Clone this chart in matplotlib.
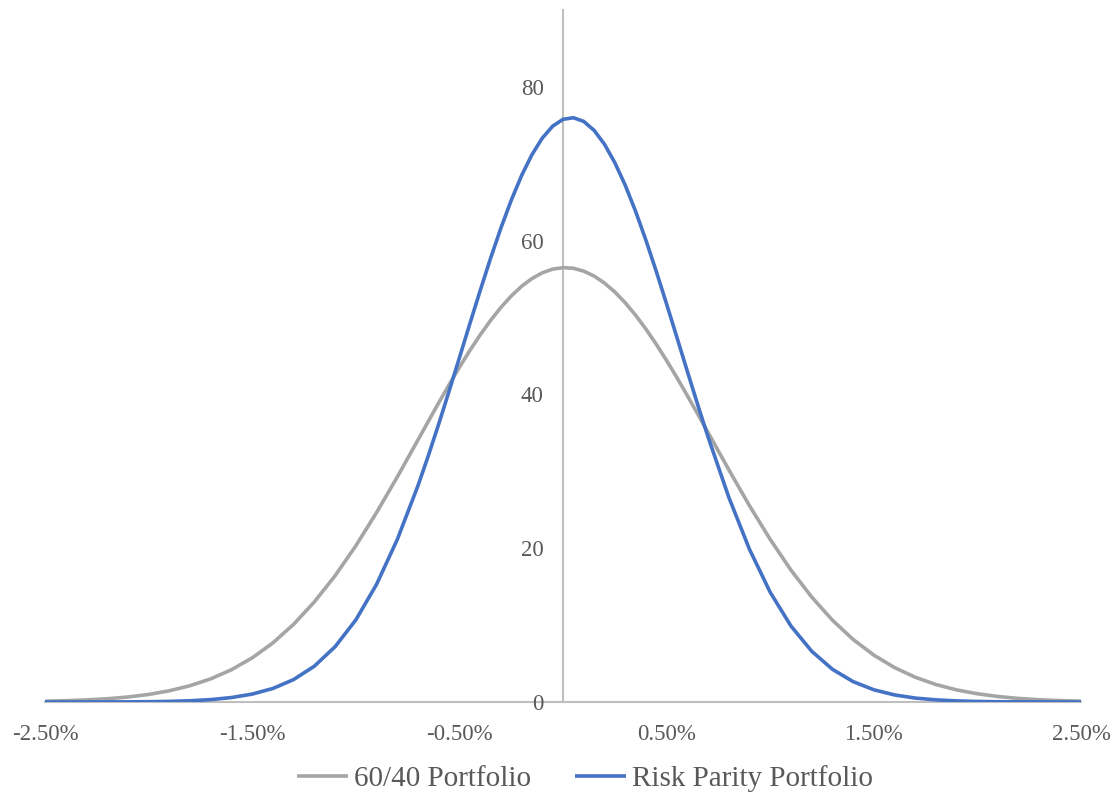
import matplotlib
matplotlib.use("Agg")
import matplotlib.pyplot as plt
from matplotlib.ticker import FuncFormatter

plt.rcParams['font.family'] = ['Liberation Serif', 'DejaVu Serif']

# daily return (%)
returns = [-2.5, -2.4, -2.3, -2.2, -2.1, -2.0, -1.9, -1.8, -1.7, -1.6,
           -1.5, -1.4, -1.3, -1.2, -1.1, -1.0, -0.9, -0.8, -0.7,
           -0.65, -0.6, -0.55, -0.5, -0.45, -0.4, -0.35, -0.3, -0.25, -0.2,
           -0.15, -0.1, -0.05, 0.0, 0.05, 0.1, 0.15, 0.2, 0.25, 0.3,
           0.35, 0.4, 0.45, 0.5, 0.55, 0.6, 0.65,
           0.7, 0.8, 0.9, 1.0, 1.1, 1.2, 1.3, 1.4, 1.5, 1.6,
           1.7, 1.8, 1.9, 2.0, 2.1, 2.2, 2.3, 2.4, 2.5]

portfolio_6040 = [0.10, 0.17, 0.27, 0.42, 0.65, 0.98, 1.46, 2.12, 3.01, 4.20,
                  5.74, 7.69, 10.11, 13.02, 16.42, 20.31, 24.63, 29.26, 34.08,
                  36.50, 38.91, 41.25, 43.53, 45.70, 47.73, 49.61, 51.31, 52.80, 54.06,
                  55.07, 55.82, 56.30, 56.49, 56.41, 56.04, 55.40, 54.49, 53.33, 51.93,
                  50.32, 48.51, 46.53, 44.41, 42.18, 39.85, 37.47,
                  35.05, 30.22, 25.53, 21.15, 17.16, 13.66, 10.65, 8.14, 6.10, 4.48,
                  3.22, 2.27, 1.57, 1.07, 0.71, 0.46, 0.29, 0.18, 0.11]

risk_parity = [0.00, 0.00, 0.00, 0.01, 0.02, 0.04, 0.08, 0.16, 0.31, 0.58,
               1.03, 1.76, 2.92, 4.66, 7.19, 10.67, 15.29, 21.12, 28.13,
               32.03, 36.14, 40.41, 44.77, 49.16, 53.48, 57.67, 61.62, 65.24, 68.46,
               71.18, 73.34, 74.89, 75.78, 75.99, 75.51, 74.35, 72.55, 70.15, 67.23,
               63.84, 60.07, 56.02, 51.76, 47.40, 43.02, 38.68,
               34.47, 26.64, 19.86, 14.27, 9.89, 6.61, 4.26, 2.65, 1.59, 0.92,
               0.51, 0.28, 0.14, 0.07, 0.03, 0.02, 0.01, 0.00, 0.00]

x_ticks = [-2.5, -1.5, -0.5, 0.5, 1.5, 2.5]
y_ticks = [0, 20, 40, 60, 80]

text_col = '#595959'
axis_col = '#bfbfbf'

fig = plt.figure(figsize=(11.13, 7.96), dpi=100)
ax = fig.add_axes([45 / 1113, 94 / 796, 1036 / 1113, 692 / 796])

ax.plot(returns, portfolio_6040, color='#a5a5a5', lw=2.6, label='60/40 Portfolio',
        zorder=3, solid_capstyle='butt', solid_joinstyle='round')
ax.plot(returns, risk_parity, color='#4472c4', lw=2.6, label='Risk Parity Portfolio',
        zorder=4, solid_capstyle='butt', solid_joinstyle='round')

ax.set_xlim(-2.5, 2.5)
ax.set_ylim(0, 90)
ax.set_xticks(x_ticks)
ax.set_yticks(y_ticks)
ax.xaxis.set_major_formatter(FuncFormatter(lambda v, p: f'{v:.2f}%'))

for s in ['top', 'right']:
    ax.spines[s].set_visible(False)
ax.spines['left'].set_position(('data', 0))
for s in ['left', 'bottom']:
    ax.spines[s].set_color(axis_col)
    ax.spines[s].set_linewidth(1.5)
    ax.spines[s].set_zorder(1)

ax.tick_params(axis='both', length=0, labelsize=16.5, labelcolor=text_col)
ax.tick_params(axis='x', pad=15.5)
ax.tick_params(axis='y', pad=14)

fig.legend(loc='center', bbox_to_anchor=(585 / 1113, 1 - 779 / 796), ncol=2,
           frameon=False, fontsize=21, labelcolor=text_col, handlelength=1.75,
           handletextpad=0.2, columnspacing=1.5)

fig.savefig('out.png', dpi=100)
